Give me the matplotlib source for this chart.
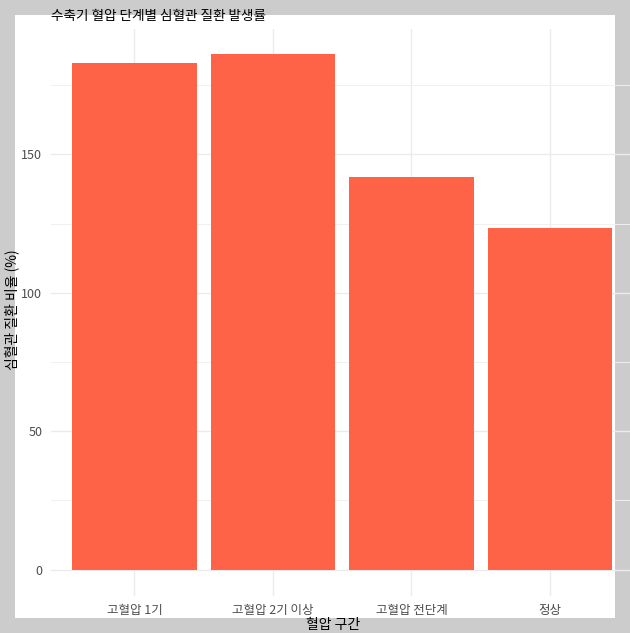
import matplotlib
matplotlib.use("Agg")
import matplotlib.pyplot as plt
from matplotlib.patches import Rectangle
import numpy as np

plt.rcParams['font.family'] = ['Noto Sans CJK KR', 'DejaVu Sans']

## data
categories = ["고혈압 1기", "고혈압 2기 이상", "고혈압 전단계", "정상"]
rates = [182.8, 186.1, 141.7, 123.3]
y_ticks = [0, 50, 100, 150]
y_minor = [25, 75, 125, 175]

W, H = 630, 633
fig = plt.figure(figsize=(W / 100, H / 100), dpi=100)
fig.patch.set_facecolor('#cccccc')

# white plot background (slightly smaller than the panel, like the reference)
fig.patches.append(Rectangle((15 / W, 1 - 618 / H), 600 / W, 603 / H,
                             transform=fig.transFigure, facecolor='white',
                             edgecolor='none', zorder=-10))

left, right, top, bottom = 51.4, 633, 28.5, 595.5
ax = fig.add_axes([left / W, 1 - bottom / H, (right - left) / W, (bottom - top) / H])
ax.patch.set_alpha(0)

x_pos = np.arange(len(categories))
ax.bar(x_pos, rates, width=0.9, color='#FF6347', zorder=2)

ymax = max(rates)
ax.set_ylim(-0.05 * ymax, ymax * 1.05)
ax.set_xlim(-0.6, len(categories) - 0.4)

ax.set_yticks(y_ticks)
ax.set_yticks(y_minor, minor=True)
ax.set_xticks(x_pos)
ax.set_xticklabels(categories)
ax.grid(True, which='major', color='#ebebeb', linewidth=1.0, zorder=0)
ax.grid(True, which='minor', axis='y', color='#f0f0f0', linewidth=0.7, zorder=0)
ax.set_axisbelow(True)
ax.tick_params(which='both', length=0)
ax.tick_params(axis='y', labelsize=9, labelcolor='#4d4d4d', pad=6.5)
ax.tick_params(axis='x', labelsize=9, labelcolor='#4d4d4d', pad=6)
for s in ax.spines.values():
    s.set_visible(False)

fig.text(51 / W, 1 - 16 / H, "수축기 혈압 단계별 심혈관 질환 발생률", fontsize=9.8,
         ha='left', va='center', color='black')
fig.text(333 / W, 1 - 625 / H, "혈압 구간", fontsize=10, ha='center', va='center')
fig.text(12 / W, 1 - 310 / H, "심혈관 질환 비율 (%)", fontsize=10, rotation=90,
         ha='center', va='center')

fig.savefig("out.png", dpi=100, facecolor=fig.get_facecolor())
